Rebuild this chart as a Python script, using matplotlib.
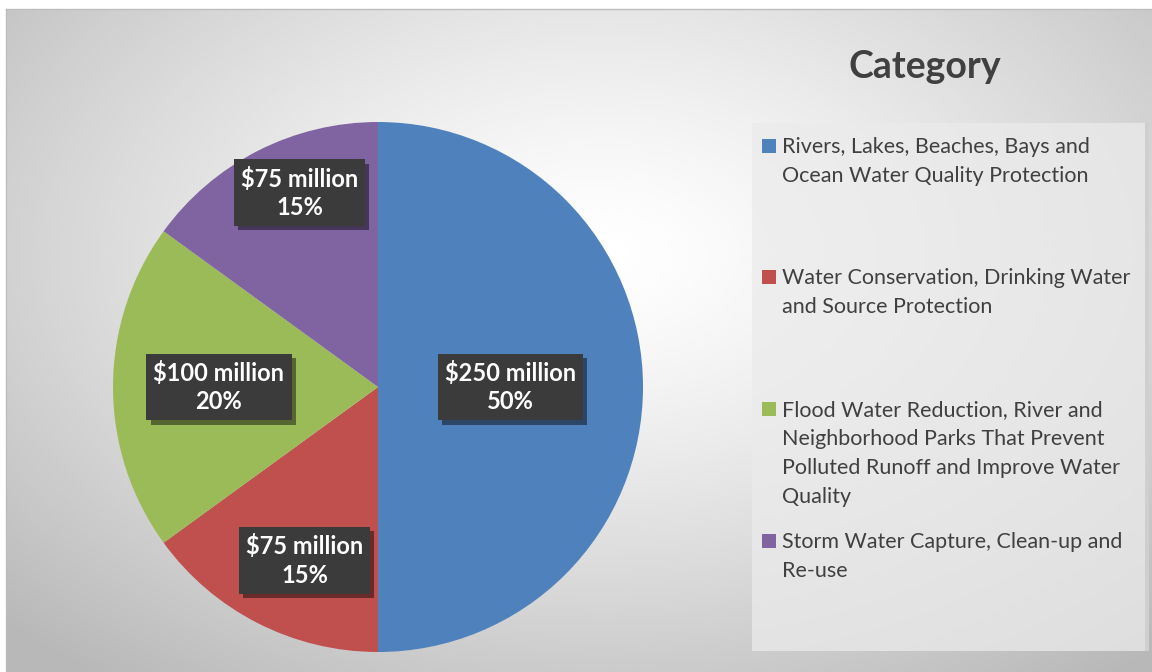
import matplotlib
matplotlib.use("Agg")
import matplotlib.pyplot as plt
import matplotlib.patheffects as pe
from matplotlib.patches import Rectangle
import numpy as np

plt.rcParams['font.family'] = ['Lato', 'DejaVu Sans']

categories = [
    ["Rivers, Lakes, Beaches, Bays and", "Ocean Water Quality Protection"],
    ["Water Conservation, Drinking Water", "and Source Protection"],
    ["Flood Water Reduction, River and", "Neighborhood Parks That Prevent",
     "Polluted Runoff and Improve Water", "Quality"],
    ["Storm Water Capture, Clean-up and", "Re-use"],
]
amounts = [250, 75, 100, 75]          # $ million
percents = [50, 15, 20, 15]
colors = ['#4F81BD', '#C0504D', '#9BBB59', '#8064A2']

# label placement (fraction of radius, degrees off the wedge middle)
label_dist = [0.50, 0.71, 0.60, 0.79]
label_turn = [0, 4, 0, -5]

W, H = 1152, 672
fig = plt.figure(figsize=(W / 100, H / 100), dpi=100)
fig.patch.set_facecolor('white')

# background: radial gray gradient inside a thin border
bg = fig.add_axes([6 / W, 0, 1 - 6 / W, 1 - 9 / H])
yy, xx = np.mgrid[0:300, 0:520]
cx, cy = 270, 110
d = np.sqrt(((xx - cx) / 520.0) ** 2 + ((yy - cy) / 330.0) ** 2)
val = np.clip(1.0 - 0.42 * d ** 1.3, 0.72, 1.0)
bg.imshow(val, cmap='gray', vmin=0, vmax=1, aspect='auto', interpolation='bicubic')
bg.set_axis_off()
fig.add_artist(plt.Line2D([6 / W, 1], [1 - 9 / H, 1 - 9 / H], color='#bdbdbd', lw=1))
fig.add_artist(plt.Line2D([6 / W, 6 / W], [0, 1 - 9 / H], color='#bdbdbd', lw=1))

# pie
pcx, pcy, R = 378, 387, 265
ax = fig.add_axes([(pcx - R) / W, (H - pcy - R) / H, 2 * R / W, 2 * R / H])
wedges, _ = ax.pie(amounts, colors=colors, startangle=90, counterclock=False,
                   radius=1.0, wedgeprops=dict(linewidth=0))
ax.set_xlim(-1, 1)
ax.set_ylim(-1, 1)
ax.set_axis_off()

for w, amt, pct, dist, turn in zip(wedges, amounts, percents, label_dist, label_turn):
    ang = np.deg2rad((w.theta1 + w.theta2) / 2.0 + turn)
    x, y = dist * np.cos(ang), dist * np.sin(ang)
    t = ax.text(x, y, "$%d million\n%d%%" % (amt, pct), ha='center', va='center',
                fontsize=17, fontweight='bold', color='white', linespacing=1.3,
                bbox=dict(boxstyle='square,pad=0.3', fc='#3b3b3b', ec='none'))
    t.get_bbox_patch().set_path_effects(
        [pe.SimplePatchShadow(offset=(3, -3), shadow_rgbFace='black', alpha=0.45), pe.Normal()])

# legend panel
lg = fig.add_axes([0, 0, 1, 1])
lg.set_xlim(0, W)
lg.set_ylim(H, 0)
lg.set_axis_off()
lg.add_patch(Rectangle((752, 123), 393, 528, fc='#ebebeb', ec='none', alpha=0.75))
lg.add_patch(Rectangle((1145, 123), 4, 528, fc='#cfcfcf', ec='none'))
lg.text(925, 78, "Category", ha='center', va='baseline', fontsize=27,
        fontweight='bold', color='#404040')
baselines = [153, 284, 416, 548]
for base, lines, c in zip(baselines, categories, colors):
    lg.add_patch(Rectangle((762, base - 14), 14, 14, fc=c, ec='none'))
    for k, line in enumerate(lines):
        lg.text(782, base + 29 * k, line, ha='left', va='baseline', fontsize=15.5,
                color='#404040')

fig.savefig("out.png", dpi=100)
